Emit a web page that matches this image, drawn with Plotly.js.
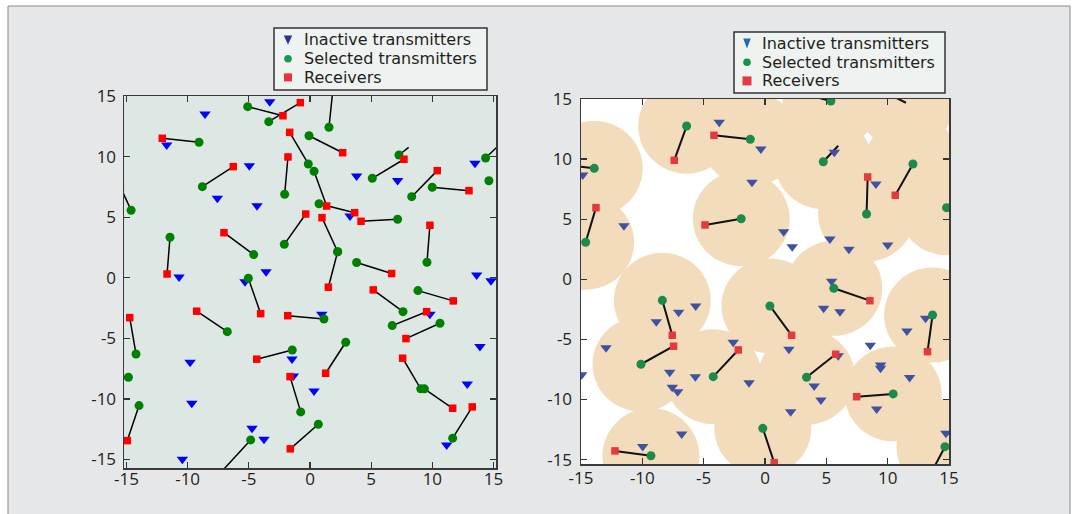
<!DOCTYPE html>
<html>
<head>
<meta charset="utf-8">
<script src="https://cdn.plot.ly/plotly-3.0.1.min.js"></script>
<style>html,body{margin:0;padding:0;background:#fff;}#chart{width:1078px;height:514px;}</style>
</head>
<body>
<div id="chart"></div>
<script>
// ---------- Left panel data ----------
const L_inactive_x = [-3.29,-8.58,-11.71,-4.96,-7.57,-4.33,-10.70,-3.59,-5.31,3.81,7.16,13.48,3.27,13.62,14.79,-9.80,-1.47,-1.36,-9.66,-4.74,-3.76,-10.43,0.96,9.80,13.89,0.33,12.85,11.17];
const L_inactive_y = [14.53,13.51,10.96,9.25,6.56,5.95,0.06,0.50,-0.32,8.40,8.02,9.45,5.10,0.23,-0.25,-6.97,-6.70,-8.10,-10.35,-12.42,-13.33,-14.98,-3.01,-3.01,-5.68,-9.34,-8.76,-13.80];

const L_tx_x = [-5.09,-3.37,-9.07,-0.14,-0.08,-8.80,-2.07,-14.62,-2.10,-4.60,-11.44,-5.04,1.55,7.27,5.09,0.33,0.74,8.31,9.99,14.35,14.62,7.16,2.26,2.26,3.81,9.56,-6.76,1.14,-14.22,-1.45,-0.76,-14.84,-13.97,-4.85,0.68,7.60,8.82,6.72,10.62,2.92,9.05,9.35,11.66];
const L_tx_y = [14.12,12.88,11.18,9.39,11.72,7.52,6.89,5.57,2.76,1.91,3.34,-0.04,12.42,10.13,8.21,8.79,6.11,6.69,7.47,9.88,8.01,4.83,2.15,2.15,1.26,1.28,-4.45,-3.40,-6.29,-5.96,-11.07,-8.21,-10.55,-13.38,-12.09,-2.80,-1.06,-3.95,-3.75,-5.32,-9.17,-9.17,-13.24];
const L_rx_x = [-2.21,-0.79,-12.07,-1.66,2.67,-6.27,-1.80,-15.5,-0.35,-7.03,-11.68,-4.03,1.90,8.06,7.68,1.36,3.65,10.40,12.99,15.7,null,4.17,0.98,1.50,6.67,9.80,-9.26,-1.82,-14.73,-4.35,-1.63,null,-14.93,-7.5,-1.61,5.17,11.71,9.53,7.84,1.28,7.57,11.66,13.26];
const L_rx_y = [13.37,14.45,11.51,12.00,10.32,9.17,9.97,7.5,5.26,3.72,0.31,-2.96,15.8,10.76,9.78,5.92,5.37,8.84,7.19,11.2,null,4.66,4.96,-0.78,0.35,4.33,-2.76,-3.13,-3.29,-6.72,-8.16,null,-13.44,-16.3,-14.12,-1.00,-1.91,-2.80,-5.02,-7.88,-6.64,-10.77,-10.66];
const L_tx_unmarked = [];
const L_rx_unmarked = [13];

// ---------- Right panel data ----------
const R_inactive_x = [-3.73,-0.34,-14.86,-11.50,-1.06,5.65,9.04,1.52,2.22,5.29,6.84,10.00,5.43,-7.04,-5.65,-8.86,-12.96,-14.94,-7.77,-7.56,-7.12,-5.68,-2.59,-1.30,-6.79,-9.97,4.78,6.11,13.09,11.57,8.58,1.95,5.97,9.42,9.42,11.79,4.01,4.56,2.09,9.10,14.75];
const R_inactive_y = [13.06,10.83,8.68,4.46,8.07,10.57,7.93,3.96,2.71,3.35,2.50,2.85,-0.17,-2.75,-2.22,-3.53,-5.69,-7.94,-7.74,-8.99,-9.35,-8.10,-5.24,-8.60,-12.87,-13.92,-2.41,-2.70,-3.24,-4.30,-5.49,-5.82,-6.36,-7.13,-7.41,-8.18,-8.88,-10.04,-11.02,-10.79,-12.81];

const R_tx_x = [-6.39,-1.20,-13.92,-14.62,-1.94,4.75,8.28,12.06,14.80,5.37,11.49,-8.37,-10.11,-4.22,-9.30,5.61,0.40,13.66,3.39,10.45,14.67,-0.18];
const R_tx_y = [12.75,11.65,9.23,3.08,5.04,9.78,5.43,9.59,5.96,14.83,14.69,-1.75,-7.07,-8.10,-14.68,-0.75,-2.22,-2.97,-8.15,-9.54,-13.93,-12.40];
const R_rx_x = [-7.40,-4.16,-15.8,-13.78,-4.89,5.97,8.37,10.62,null,2.50,9.60,-7.56,-7.45,-2.18,-12.23,8.55,2.17,13.25,5.76,7.47,13.50,0.75];
const R_rx_y = [9.90,11.98,9.45,5.96,4.52,11.11,8.51,6.99,null,15.60,15.65,-4.66,-5.57,-5.88,-14.28,-1.78,-4.66,-6.02,-6.24,-9.77,-16.20,-15.26];
const R_tx_unmarked = [10];
const R_rx_unmarked = [5];
const R_coverage_radius = 3.95;

const legendNames = ['Inactive transmitters', 'Selected transmitters', 'Receivers'];
const tickVals = [-15, -10, -5, 0, 5, 10, 15];
const tickText = ['-15', '-10', '-5', '0', '5', '10', '15'];

// ---------- helpers ----------
function linkSegments(tx, ty, rx, ry) {
  const xs = [], ys = [];
  for (let i = 0; i < tx.length; i++) {
    if (rx[i] === null) continue;
    xs.push(tx[i], rx[i], null);
    ys.push(ty[i], ry[i], null);
  }
  return {x: xs, y: ys};
}
function marked(xa, ya, unmarked) {
  const xs = [], ys = [];
  for (let i = 0; i < xa.length; i++) {
    if (xa[i] === null || unmarked.includes(i)) continue;
    xs.push(xa[i]); ys.push(ya[i]);
  }
  return {x: xs, y: ys};
}

const W = 1078, H = 514;
const px = v => v / W;
const py = v => 1 - v / H;

const Lseg = linkSegments(L_tx_x, L_tx_y, L_rx_x, L_rx_y);
const Ltx = marked(L_tx_x, L_tx_y, L_tx_unmarked);
const Lrx = marked(L_rx_x, L_rx_y, L_rx_unmarked);
const Rseg = linkSegments(R_tx_x, R_tx_y, R_rx_x, R_rx_y);
const Rtx = marked(R_tx_x, R_tx_y, R_tx_unmarked);
const Rrx = marked(R_rx_x, R_rx_y, R_rx_unmarked);

const Lc = {blue: '#0000ff', green: '#008000', red: '#ff0000'};
const Rc = {blue: '#3e51a3', green: '#1c8a48', red: '#e43a3d'};

const traces = [
  {x: Lseg.x, y: Lseg.y, xaxis: 'x', yaxis: 'y', mode: 'lines', line: {color: '#000', width: 1.5}, showlegend: false, hoverinfo: 'skip', connectgaps: false},
  {x: L_inactive_x, y: L_inactive_y, xaxis: 'x', yaxis: 'y', mode: 'markers', name: legendNames[0], showlegend: false, marker: {symbol: 'triangle-down', size: 10, color: Lc.blue}},
  {x: Ltx.x, y: Ltx.y, xaxis: 'x', yaxis: 'y', mode: 'markers', name: legendNames[1], showlegend: false, marker: {symbol: 'circle', size: 9, color: Lc.green}},
  {x: Lrx.x, y: Lrx.y, xaxis: 'x', yaxis: 'y', mode: 'markers', name: legendNames[2], showlegend: false, marker: {symbol: 'square', size: 7.5, color: Lc.red}},

  {x: Rseg.x, y: Rseg.y, xaxis: 'x2', yaxis: 'y2', mode: 'lines', line: {color: '#111', width: 2}, showlegend: false, hoverinfo: 'skip', connectgaps: false},
  {x: R_inactive_x, y: R_inactive_y, xaxis: 'x2', yaxis: 'y2', mode: 'markers', name: legendNames[0], showlegend: false, marker: {symbol: 'triangle-down', size: 10, color: Rc.blue}},
  {x: Rtx.x, y: Rtx.y, xaxis: 'x2', yaxis: 'y2', mode: 'markers', name: legendNames[1], showlegend: false, marker: {symbol: 'circle', size: 9, color: Rc.green}},
  {x: Rrx.x, y: Rrx.y, xaxis: 'x2', yaxis: 'y2', mode: 'markers', name: legendNames[2], showlegend: false, marker: {symbol: 'square', size: 7.5, color: Rc.red}}
];

const shapes = [];
// left panel background
shapes.push({type: 'rect', xref: 'x domain', yref: 'y domain', x0: 0, x1: 1, y0: 0, y1: 1, fillcolor: '#dde8e5', line: {width: 0}, layer: 'below'});
// right panel coverage disks
for (let i = 0; i < R_tx_x.length; i++) {
  shapes.push({type: 'circle', xref: 'x2', yref: 'y2', layer: 'below',
    x0: R_tx_x[i] - R_coverage_radius, x1: R_tx_x[i] + R_coverage_radius,
    y0: R_tx_y[i] - R_coverage_radius, y1: R_tx_y[i] + R_coverage_radius,
    fillcolor: '#f2dcbb', line: {width: 0}});
}
// outer white margins + figure border
shapes.push({type: 'rect', xref: 'paper', yref: 'paper', x0: 0, x1: 1, y0: py(6), y1: 1, fillcolor: '#ffffff', line: {width: 0}, layer: 'above'});
shapes.push({type: 'rect', xref: 'paper', yref: 'paper', x0: 0, x1: px(8), y0: 0, y1: 1, fillcolor: '#ffffff', line: {width: 0}, layer: 'above'});
shapes.push({type: 'rect', xref: 'paper', yref: 'paper', x0: px(1070), x1: 1, y0: 0, y1: 1, fillcolor: '#ffffff', line: {width: 0}, layer: 'above'});
shapes.push({type: 'rect', xref: 'paper', yref: 'paper', x0: px(8), x1: px(1070), y0: py(530), y1: py(6), fillcolor: 'rgba(0,0,0,0)', line: {width: 1, color: '#8a8a8a'}, layer: 'above'});

// ---------- legend boxes (drawn as layout items) ----------
const annotations = [];
const TICK_FAMILY = 'Open Sans, Noto Sans, sans-serif';
const LEGEND_FONT = {family: 'DejaVu Sans, Open Sans, sans-serif', size: 16, color: '#231f20'};
function addLegend(box, symX, textX, rowsY, colors, triW, triH, circR, sqH) {
  shapes.push({type: 'rect', xref: 'paper', yref: 'paper', layer: 'above',
    x0: px(box[0]), x1: px(box[2]), y0: py(box[3]), y1: py(box[1]),
    fillcolor: '#eef2f1', line: {color: '#333333', width: 1.5}});
  const ty = rowsY[0];
  shapes.push({type: 'path', xref: 'paper', yref: 'paper', layer: 'above',
    path: `M ${px(symX - triW / 2)} ${py(ty - triH / 2)} L ${px(symX + triW / 2)} ${py(ty - triH / 2)} L ${px(symX)} ${py(ty + triH / 2)} Z`,
    fillcolor: colors[0], line: {width: 0}});
  shapes.push({type: 'circle', xref: 'paper', yref: 'paper', layer: 'above',
    x0: px(symX - circR), x1: px(symX + circR), y0: py(rowsY[1] + circR), y1: py(rowsY[1] - circR),
    fillcolor: colors[1], line: {width: 0}});
  shapes.push({type: 'rect', xref: 'paper', yref: 'paper', layer: 'above',
    x0: px(symX - sqH / 2), x1: px(symX + sqH / 2), y0: py(rowsY[2] + sqH / 2), y1: py(rowsY[2] - sqH / 2),
    fillcolor: colors[2], line: {width: 0}});
  for (let i = 0; i < 3; i++) {
    annotations.push({xref: 'paper', yref: 'paper', x: px(textX), y: py(rowsY[i]), xanchor: 'left', yanchor: 'middle',
      align: 'left', text: legendNames[i], showarrow: false, borderpad: 0, font: LEGEND_FONT});
  }
}
addLegend([274, 28, 487, 90], 288, 303, [40, 58.7, 77.4], ['#2e3192', '#1a9850', '#e8323c'], 8.5, 9, 3.8, 8);
addLegend([734, 32, 945, 93], 747, 761, [43.5, 62.2, 80.9], ['#1f6db3', '#16924a', '#e23b3f'], 7.5, 10, 3.8, 9);

const axisCommon = {
  tickmode: 'array', tickvals: tickVals, ticktext: tickText,
  ticks: 'inside', ticklen: 6, tickwidth: 1.2, tickcolor: '#333',
  showline: true, linecolor: '#3a3a3a', linewidth: 1.5, mirror: 'ticks',
  showgrid: false, zeroline: false,
  tickfont: {family: TICK_FAMILY, size: 17, color: '#231f20'}
};

const layout = {
  width: W, height: H,
  margin: {l: 0, r: 0, t: 0, b: 0, pad: 0},
  paper_bgcolor: '#e6e7e8', plot_bgcolor: '#ffffff',
  showlegend: false,
  xaxis: Object.assign({}, axisCommon, {domain: [px(124), px(496)], range: [-15.2, 15.2], anchor: 'y', ticklabelstandoff: -5}),
  yaxis: Object.assign({}, axisCommon, {domain: [py(468), py(96)], range: [-15.7, 15], anchor: 'x', ticklabelstandoff: 3}),
  xaxis2: Object.assign({}, axisCommon, {domain: [px(581), px(949)], range: [-15, 15], anchor: 'y2', ticklabelstandoff: -2}),
  yaxis2: Object.assign({}, axisCommon, {domain: [py(464), py(99)], range: [-15.37, 15], anchor: 'x2', ticklabelstandoff: 4}),
  shapes: shapes,
  annotations: annotations
};

Plotly.newPlot('chart', traces, layout, {displayModeBar: false, staticPlot: true});
</script>
</body>
</html>
